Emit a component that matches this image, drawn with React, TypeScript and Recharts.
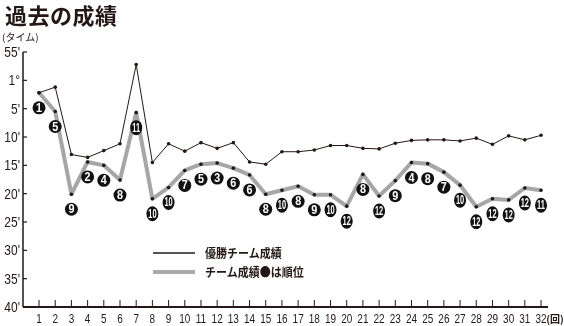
import { LabelList, Line, LineChart, XAxis, YAxis } from 'recharts';

const rounds = [1, 2, 3, 4, 5, 6, 7, 8, 9, 10, 11, 12, 13, 14, 15, 16, 17, 18, 19, 20, 21, 22, 23, 24, 25, 26, 27, 28, 29, 30, 31, 32];

// minutes relative to 1 hour (negative = 55' etc)
const winnerTimes = [2.2, 1.2, 13.1, 13.6, 12.4, 11.2, -2.8, 14.5, 11.2, 12.5, 11.0, 12.0, 11.0, 14.4, 14.8, 12.6, 12.6, 12.3, 11.5, 11.5, 12.0, 12.1, 11.1, 10.6, 10.5, 10.5, 10.7, 10.2, 11.3, 9.8, 10.5, 9.7];
const teamTimes = [2.2, 5.5, 20.1, 14.4, 15.0, 17.6, 5.7, 20.9, 18.9, 15.9, 14.8, 14.6, 15.5, 16.7, 20.1, 19.4, 18.7, 20.2, 20.2, 22.2, 16.6, 20.4, 17.7, 14.5, 14.7, 16.2, 18.5, 22.3, 20.9, 21.1, 19.0, 19.4];
const ranks = [1, 5, 9, 2, 4, 8, 11, 10, 10, 7, 5, 3, 6, 6, 8, 10, 8, 9, 10, 12, 8, 12, 9, 4, 8, 7, 10, 12, 12, 12, 12, 11];

const yTicks = [-5, 0, 5, 10, 15, 20, 25, 30, 35, 40];

const data = rounds.map((r, i) => ({
  round: r,
  winner: winnerTimes[i],
  team: teamTimes[i],
  rank: ranks[i],
}));

const numFont = '"Liberation Sans", Arial, sans-serif';
const jpFont = '"Noto Sans CJK JP", sans-serif';

function yLabel(v: number) {
  if (v === -5) return "55'";
  if (v === 0) return '1°';
  return `${v}'`;
}

function YTick(props: any) {
  const { x, y, payload } = props;
  return (
    <g>
      <line x1={x} x2={x + 4} y1={y} y2={y} stroke="#231815" strokeWidth={1.2} />
      <text
        transform={`translate(${x - 3},${y + 5}) scale(0.8,1)`}
        textAnchor="end"
        fontSize={15}
        fontFamily={numFont}
        fill="#231815"
      >
        {yLabel(payload.value)}
      </text>
    </g>
  );
}

function XTick(props: any) {
  const { x, y, payload } = props;
  return (
    <g>
      <line x1={x} x2={x} y1={y} y2={y - 7} stroke="#231815" strokeWidth={1} />
      <text
        transform={`translate(${x},${y + 16}) scale(0.8,1)`}
        textAnchor="middle"
        fontSize={12.5}
        fontFamily={numFont}
        fill="#231815"
      >
        {payload.value}
      </text>
      {payload.value === 32 && (
        <text x={x + 14} y={y + 16} textAnchor="middle" fontSize={10} fontWeight="bold" fontFamily={jpFont} fill="#231815">
          (回)
        </text>
      )}
    </g>
  );
}

function Badge(props: any) {
  const { x, y, value } = props;
  const two = String(value).length > 1;
  const cy = y + 15;
  return (
    <g>
      <ellipse cx={x} cy={cy} rx={two ? 6 : 6.5} ry={two ? 7.5 : 6.5} fill="#111" />
      <text
        transform={`translate(${x},${cy + 4}) scale(${two ? 0.62 : 0.9},1)`}
        textAnchor="middle"
        fontSize={12}
        fontWeight="bold"
        fontFamily={numFont}
        fill="#fff"
      >
        {value}
      </text>
    </g>
  );
}

function LegendBox() {
  const row = (top: number, color: string, width: number, label: string) => (
    <div style={{ position: 'absolute', left: 153, top, height: 16, width: 200 }}>
      <div style={{ position: 'absolute', left: 0, top: 8 - width / 2, width: 42, height: width, background: color }} />
      <div
        style={{
          position: 'absolute',
          left: 52,
          top: -1,
          fontSize: 12.5,
          fontWeight: 'bold',
          fontFamily: jpFont,
          whiteSpace: 'nowrap',
          color: '#231815',
          transform: 'scaleX(0.88)',
          transformOrigin: 'left center',
          lineHeight: '18px',
        }}
      >
        {label}
      </div>
    </div>
  );
  return (
    <>
      {row(245, '#555', 1.2, '優勝チーム成績')}
      {row(264, '#aaa', 4, 'チーム成績●は順位')}
    </>
  );
}

export default function App() {
  return (
    <div style={{ position: 'fixed', left: 0, top: 0, width: 564, height: 326, background: '#fff' }}>
      <div
        style={{
          position: 'absolute',
          left: 5,
          top: 2,
          width: 160,
          fontSize: 22,
          fontWeight: 'bold',
          fontFamily: jpFont,
          lineHeight: '24px',
          color: '#231815',
          letterSpacing: 0.5,
          whiteSpace: 'nowrap',
        }}
      >
        過去の成績
      </div>
      <div
        style={{
          position: 'absolute',
          left: 2,
          top: 30,
          fontSize: 10,
          fontFamily: jpFont,
          lineHeight: '14px',
          color: '#231815',
        }}
      >
        (タイム)
      </div>
      <LineChart width={564} height={326} data={data} margin={{ top: 52, right: 16, bottom: 0, left: 0 }}>
        <XAxis
          dataKey="round"
          type="number"
          domain={[0.01, 32.43]}
          ticks={rounds}
          interval={0}
          height={19}
          tickLine={false}
          tickSize={0}
          tickMargin={0}
          axisLine={{ stroke: '#231815', strokeWidth: 2 }}
          tick={<XTick />}
          allowDataOverflow
        />
        <YAxis
          type="number"
          domain={[-5, 40]}
          ticks={yTicks}
          reversed
          width={23}
          interval={0}
          tickLine={false}
          tickSize={0}
          tickMargin={0}
          axisLine={{ stroke: '#231815', strokeWidth: 1.5 }}
          tick={<YTick />}
          allowDataOverflow
        />
        <Line
          dataKey="team"
          stroke="#a6a6a6"
          strokeWidth={4}
          strokeLinejoin="round"
          dot={{ r: 1.8, fill: '#231815', stroke: 'none' }}
          isAnimationActive={false}
        >
          <LabelList dataKey="rank" content={<Badge />} />
        </Line>
        <Line
          dataKey="winner"
          stroke="#231815"
          strokeWidth={1}
          dot={{ r: 1.8, fill: '#231815', stroke: 'none' }}
          isAnimationActive={false}
        />
      </LineChart>
      <LegendBox />
    </div>
  );
}
